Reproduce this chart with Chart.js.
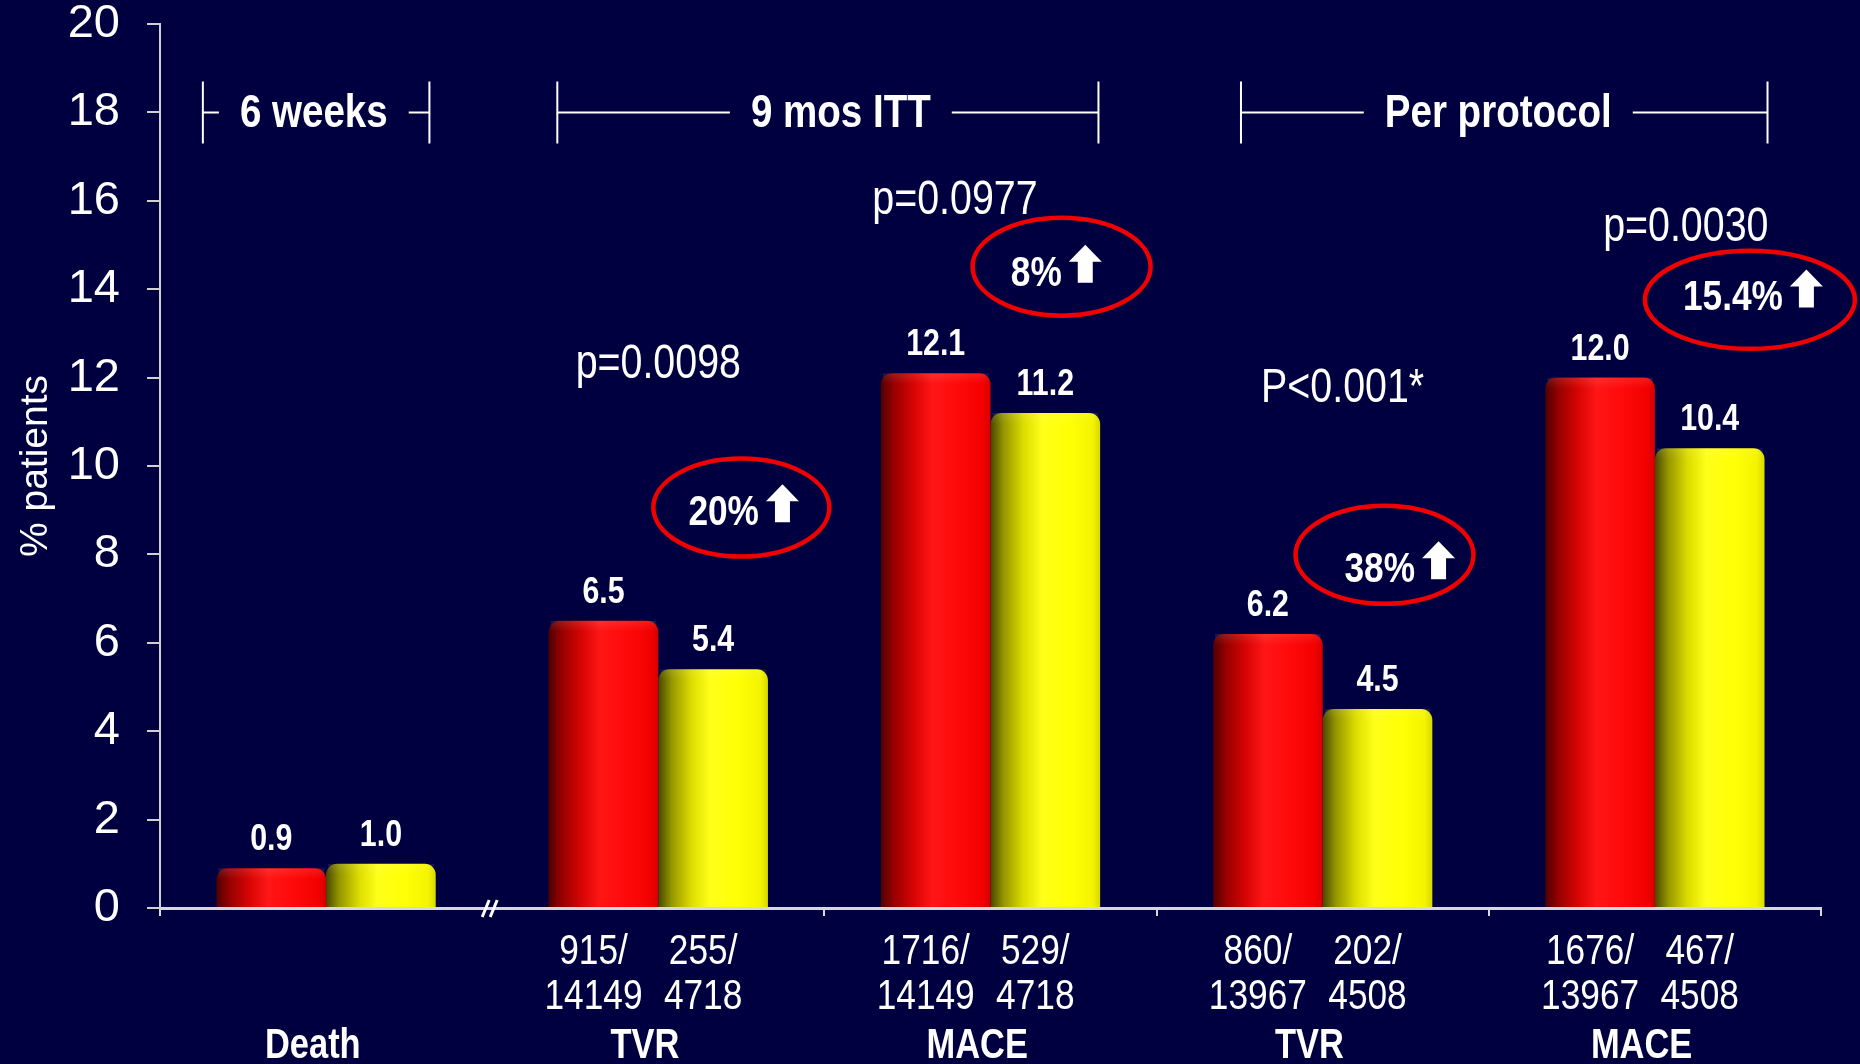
<!DOCTYPE html>
<html>
<head>
<meta charset="utf-8">
<title>Event rates</title>
<script src="https://cdn.jsdelivr.net/npm/chart.js@4.4.1/dist/chart.umd.min.js"></script>
<style>
  html, body { margin: 0; padding: 0; background: #000040; overflow: hidden; }
  #wrap { width: 1860px; height: 1064px; }
</style>
</head>
<body>
<div id="wrap"><canvas id="chart" width="1860" height="1064"></canvas></div>
<script>
// ---- data ----
const categories   = ['Death', 'TVR', 'MACE', 'TVR', 'MACE'];
const redValues    = [0.9, 6.5, 12.1, 6.2, 12.0];
const yellowValues = [1.0, 5.4, 11.2, 4.5, 10.4];
const redCounts    = [null, ['915/', '14149'], ['1716/', '14149'], ['860/', '13967'], ['1676/', '13967']];
const yellowCounts = [null, ['255/', '4718'], ['529/', '4718'], ['202/', '4508'], ['467/', '4508']];
const yTickValues  = [0, 2, 4, 6, 8, 10, 12, 14, 16, 18, 20];
const periodLabels = ['6 weeks', '9 mos ITT', 'Per protocol'];
const pValueLabels = ['p=0.0098', 'p=0.0977', 'P<0.001*', 'p=0.0030'];
const changeLabels = ['20%', '8%', '38%', '15.4%'];

// ---- placement of the annotations (category index + fraction of a category, value on y) ----
const periodSpans = [
  { from: 0, fromDx: -0.371, to: 0, toDx: 0.311, textDx: -0.007 },
  { from: 1, fromDx: -0.304, to: 2, toDx: 0.325, textDx: 0.039 },
  { from: 3, fromDx: -0.246, to: 4, toDx: 0.339, textDx: -0.018 }
];
const pValuePlaces = [
  { cat: 1, dx: 0.0,    y: 12.3 },
  { cat: 2, dx: -0.107, y: 16.0 },
  { cat: 3, dx: 0.06,   y: 11.75 },
  { cat: 4, dx: 0.093,  y: 15.4 }
];
const calloutPlaces = [
  { cat: 1, dx: 0.25,  y: 9.06,  rx: 88,  ry: 49, tdx: 0.257, ty: 8.93 },
  { cat: 2, dx: 0.214, y: 14.51, rx: 89,  ry: 49, tdx: 0.198, ty: 14.35 },
  { cat: 3, dx: 0.186, y: 7.99,  rx: 89,  ry: 49, tdx: 0.232, ty: 7.64 },
  { cat: 4, dx: 0.286, y: 13.76, rx: 105, ry: 49, tdx: 0.295, ty: 13.79 }
];
const breakAfter = 1;   // axis break drawn at the left edge of this category

// ---- fonts: a true narrow face if present, otherwise Liberation Sans squeezed ----
function hasFont(name) {
  const c = document.createElement('canvas').getContext('2d');
  const s = 'abcdefghijklmnopqrstuvwxyz0123456789%/.';
  c.font = '40px monospace';
  const w1 = c.measureText(s).width;
  c.font = '40px "' + name + '", monospace';
  return Math.abs(c.measureText(s).width - w1) > 0.5;
}
const narrowFamily = ['Liberation Sans Narrow', 'Arial Narrow'].find(hasFont);
const NARROW = narrowFamily ? '"' + narrowFamily + '"' : '"Liberation Sans", Arial, sans-serif';
const SQUEEZE = narrowFamily ? 1 : 0.82;
const REGULAR = '"Liberation Sans", Arial, sans-serif';

function narrowText(ctx, text, x, y, size, weight, align) {
  ctx.save();
  ctx.font = (weight || 'normal') + ' ' + size + 'px ' + NARROW;
  ctx.textAlign = align || 'center';
  ctx.translate(x, y);
  ctx.scale(SQUEEZE, 1);
  ctx.fillText(text, 0, 0);
  ctx.restore();
}
function narrowWidth(ctx, text, size, weight) {
  ctx.save();
  ctx.font = (weight || 'normal') + ' ' + size + 'px ' + NARROW;
  const w = ctx.measureText(text).width * SQUEEZE;
  ctx.restore();
  return w;
}

// ---- helpers on the chart scales ----
function catStep(chart) {
  const xs = chart.scales.x;
  return xs.getPixelForValue(1) - xs.getPixelForValue(0);
}
function catPixel(chart, cat, dx) {
  return chart.scales.x.getPixelForValue(cat) + dx * catStep(chart);
}

const CAT_PCT = 0.66;
function cylinderFill(stops) {
  return function (c) {
    const chart = c.chart;
    const xs = chart.scales && chart.scales.x;
    const fallback = stops[4][1];
    if (!xs || c.dataIndex === undefined) return fallback;
    const step = xs.getPixelForValue(1) - xs.getPixelForValue(0);
    const center = xs.getPixelForValue(c.dataIndex);
    if (!isFinite(step) || !isFinite(center) || step <= 0) return fallback;
    const barW = step * CAT_PCT / 2;
    const left = c.datasetIndex === 0 ? center - barW : center;
    const g = chart.ctx.createLinearGradient(left, 0, left + barW, 0);
    stops.forEach(s => g.addColorStop(s[0], s[1]));
    return g;
  };
}
const redStops = [[0, '#500000'], [0.12, '#980000'], [0.3, '#d80404'], [0.47, '#ff1616'], [0.7, '#ff0a0a'], [0.93, '#f20000'], [1, '#d40000']];
const yellowStops = [[0, '#484800'], [0.12, '#959500'], [0.3, '#dcdc00'], [0.47, '#ffff1a'], [0.72, '#ffff05'], [0.93, '#f4f400'], [1, '#d8d800']];

// ---- plugins ----
const decorations = {
  id: 'decorations',
  beforeDraw(chart) {
    const ctx = chart.ctx;
    ctx.save();
    ctx.fillStyle = '#000040';
    ctx.fillRect(0, 0, chart.width, chart.height);
    ctx.restore();
  },
  afterDatasetsDraw(chart) {
    const ctx = chart.ctx;
    const ys = chart.scales.y;
    // light band across the rounded top of each cylinder
    chart.data.datasets.forEach((ds, di) => {
      chart.getDatasetMeta(di).data.forEach(el => {
        const w = el.width, l = el.x - w / 2, t = el.y;
        ctx.save();
        ctx.beginPath();
        ctx.rect(l + 2, t, w - 4, 11);
        ctx.clip();
        const g = ctx.createLinearGradient(0, t, 0, t + 11);
        g.addColorStop(0, 'rgba(255,255,255,0.10)');
        g.addColorStop(1, 'rgba(255,255,255,0.0)');
        ctx.fillStyle = g;
        ctx.fillRect(l, t, w, 11);
        ctx.restore();
      });
    });

    ctx.save();
    ctx.fillStyle = '#ffffff';
    ctx.textBaseline = 'alphabetic';
    // value labels above the bars
    chart.data.datasets.forEach((ds, di) => {
      chart.getDatasetMeta(di).data.forEach((el, i) => {
        narrowText(ctx, ds.data[i].toFixed(1), el.x, el.y - 18, 37, 'bold');
      });
    });

    // event counts under the bars
    ctx.textBaseline = 'middle';
    [redCounts, yellowCounts].forEach((counts, di) => {
      chart.getDatasetMeta(di).data.forEach((el, i) => {
        const c = counts[i];
        if (!c) return;
        narrowText(ctx, c[0], el.x - 10, 952, 43, 'normal');
        narrowText(ctx, c[1], el.x - 10, 997, 43, 'normal');
      });
    });

    // category names under the axis
    const step = catStep(chart);
    categories.forEach((name, i) => {
      narrowText(ctx, name, chart.scales.x.getPixelForValue(i) - 0.04 * step, 1046, 42, 'bold');
    });

    // p-values
    pValueLabels.forEach((txt, i) => {
      const p = pValuePlaces[i];
      narrowText(ctx, txt, catPixel(chart, p.cat, p.dx), ys.getPixelForValue(p.y), 48, 'normal');
    });

    // period brackets
    const yc = ys.getPixelForValue(18);
    ctx.strokeStyle = '#ffffff';
    ctx.lineWidth = 2;
    periodLabels.forEach((txt, i) => {
      const s = periodSpans[i];
      const x1 = catPixel(chart, s.from, s.fromDx);
      const x2 = catPixel(chart, s.to, s.toDx);
      const mid = (x1 + x2) / 2 + s.textDx * step;
      const tw = narrowWidth(ctx, txt, 47, 'bold');
      const gap = 21;
      ctx.beginPath();
      ctx.moveTo(x1, yc - 31); ctx.lineTo(x1, yc + 31);
      ctx.moveTo(x2, yc - 31); ctx.lineTo(x2, yc + 31);
      ctx.moveTo(x1, yc); ctx.lineTo(mid - tw / 2 - gap, yc);
      ctx.moveTo(mid + tw / 2 + gap, yc); ctx.lineTo(x2, yc);
      ctx.stroke();
      narrowText(ctx, txt, mid, yc + 2, 47, 'bold');
    });

    // circled relative increases
    changeLabels.forEach((txt, i) => {
      const c = calloutPlaces[i];
      const ex = catPixel(chart, c.cat, c.dx);
      const ey = ys.getPixelForValue(c.y);
      ctx.beginPath();
      ctx.ellipse(ex, ey, c.rx, c.ry, 0, 0, Math.PI * 2);
      ctx.strokeStyle = '#f00000';
      ctx.lineWidth = 4.5;
      ctx.stroke();

      const tw = narrowWidth(ctx, txt, 43, 'bold');
      const aw = 33, gap = 7;
      const gx = catPixel(chart, c.cat, c.tdx);
      const ty = ys.getPixelForValue(c.ty);
      const left = gx - (tw + gap + aw) / 2;
      narrowText(ctx, txt, left, ty, 43, 'bold', 'left');
      // block arrow pointing up
      const ax = left + tw + gap + aw / 2;
      const top = ty - 29, bottom = ty + 9, headH = 17, shaft = 15;
      ctx.beginPath();
      ctx.moveTo(ax, top);
      ctx.lineTo(ax + aw / 2, top + headH);
      ctx.lineTo(ax + shaft / 2, top + headH);
      ctx.lineTo(ax + shaft / 2, bottom);
      ctx.lineTo(ax - shaft / 2, bottom);
      ctx.lineTo(ax - shaft / 2, top + headH);
      ctx.lineTo(ax - aw / 2, top + headH);
      ctx.closePath();
      ctx.fillStyle = '#ffffff';
      ctx.fill();
    });
    ctx.restore();
  },
  afterDraw(chart) {
    // axis break mark
    const ctx = chart.ctx;
    const bx = chart.scales.x.getPixelForValue(breakAfter) - catStep(chart) / 2;
    const by = chart.chartArea.bottom;
    ctx.save();
    ctx.strokeStyle = '#ffffff';
    ctx.lineWidth = 3;
    ctx.beginPath();
    ctx.moveTo(bx - 10, by + 9); ctx.lineTo(bx - 3, by - 8);
    ctx.moveTo(bx - 2, by + 9); ctx.lineTo(bx + 5, by - 8);
    ctx.stroke();
    ctx.restore();
  }
};

// ---- chart ----
new Chart(document.getElementById('chart'), {
  type: 'bar',
  data: {
    labels: categories,
    datasets: [
      {
        label: 'Red',
        data: redValues,
        backgroundColor: cylinderFill(redStops),
        borderRadius: { topLeft: 11, topRight: 11, bottomLeft: 0, bottomRight: 0 },
        borderSkipped: false,
        categoryPercentage: CAT_PCT,
        barPercentage: 1.0
      },
      {
        label: 'Yellow',
        data: yellowValues,
        backgroundColor: cylinderFill(yellowStops),
        borderRadius: { topLeft: 11, topRight: 11, bottomLeft: 0, bottomRight: 0 },
        borderSkipped: false,
        categoryPercentage: CAT_PCT,
        barPercentage: 1.0
      }
    ]
  },
  options: {
    responsive: false,
    animation: false,
    layout: { padding: { top: 24, right: 39, left: 0, bottom: 0 } },
    plugins: { legend: { display: false }, tooltip: { enabled: false } },
    scales: {
      x: {
        grid: {
          display: true,
          drawOnChartArea: false,
          drawTicks: true,
          tickLength: 8,
          offset: true,
          lineWidth: 2,
          color: c => (c.index === breakAfter ? 'rgba(0,0,0,0)' : '#d8d8d8')
        },
        border: { display: true, color: '#d8d8d8', width: 3 },
        ticks: { display: false },
        afterFit: s => { s.height = 156; }
      },
      y: {
        min: 0,
        max: 20,
        afterBuildTicks: s => { s.ticks = yTickValues.map(v => ({ value: v })); },
        ticks: {
          color: '#ffffff',
          font: { family: REGULAR, size: 47, lineHeight: 1.0 },
          padding: 27
        },
        grid: {
          display: true,
          drawOnChartArea: false,
          drawTicks: true,
          tickLength: 13,
          lineWidth: 2,
          color: '#d0d0d0'
        },
        border: { display: true, color: '#d0d0d0', width: 2 },
        title: {
          display: true,
          text: '% patients',
          color: '#ffffff',
          font: { family: REGULAR, size: 39 },
          padding: { top: 13, bottom: 0 }
        },
        afterFit: s => { s.width = 160; s.paddingTop = 0; s.paddingBottom = 0; }
      }
    }
  },
  plugins: [decorations]
});
</script>
</body>
</html>
